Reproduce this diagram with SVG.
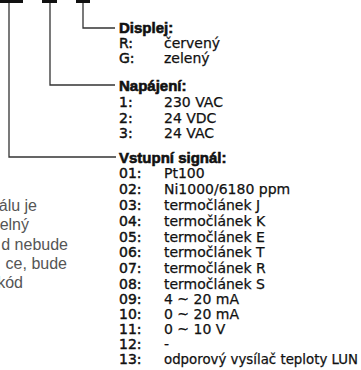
<svg xmlns="http://www.w3.org/2000/svg" width="361" height="370" viewBox="0 0 361 370">
<style>
.bar{fill:#111}
.ln{fill:none;stroke:#333;stroke-width:1.3}
.h{font-family:"Liberation Sans",Arial,sans-serif;font-weight:bold;font-size:15px;fill:#111;stroke:#111;stroke-width:0.6}
.k{font-family:"DejaVu Sans",sans-serif;font-size:14px;fill:#111;stroke:#111;stroke-width:0.45}
.v{font-family:"DejaVu Sans",sans-serif;font-size:14px;fill:#111;stroke:#111;stroke-width:0.25}
.n{font-family:"Liberation Sans",Arial,sans-serif;font-size:16px;fill:#555;text-anchor:end}
</style>
<rect width="361" height="370" fill="#fff"/>
<g id="connectors">
<rect class="bar" x="0" y="0" width="23" height="3"/>
<rect class="bar" x="42" y="0" width="15" height="3"/>
<rect class="bar" x="76" y="0" width="14" height="3"/>
<path class="ln" d="M83,3 V28 H115"/>
<path class="ln" d="M50,3 V85 H115"/>
<path class="ln" d="M9,3 V157 H116"/>
</g>
<g id="displej">
<text class="h" x="119" y="33">Displej:</text>
<text class="k" x="119" y="48">R:</text><text class="v" x="164" y="48">červený</text>
<text class="k" x="119" y="63">G:</text><text class="v" x="164" y="63">zelený</text>
</g>
<g id="napajeni">
<text class="h" x="119" y="91">Napájení:</text>
<text class="k" x="119" y="107">1:</text><text class="v" x="164" y="107">230 VAC</text>
<text class="k" x="119" y="123">2:</text><text class="v" x="164" y="123">24 VDC</text>
<text class="k" x="119" y="138">3:</text><text class="v" x="164" y="138">24 VAC</text>
</g>
<g id="vstupni">
<text class="h" x="119" y="163">Vstupní signál:</text>
<text class="k" x="119" y="178">01:</text><text class="v" x="164" y="178">Pt100</text>
<text class="k" x="119" y="194">02:</text><text class="v" x="164" y="194">Ni1000/6180 ppm</text>
<text class="k" x="119" y="210">03:</text><text class="v" x="164" y="210">termočlánek J</text>
<text class="k" x="119" y="226">04:</text><text class="v" x="164" y="226">termočlánek K</text>
<text class="k" x="119" y="242">05:</text><text class="v" x="164" y="242">termočlánek E</text>
<text class="k" x="119" y="257">06:</text><text class="v" x="164" y="257">termočlánek T</text>
<text class="k" x="119" y="273">07:</text><text class="v" x="164" y="273">termočlánek R</text>
<text class="k" x="119" y="289">08:</text><text class="v" x="164" y="289">termočlánek S</text>
<text class="k" x="119" y="304">09:</text><text class="v" x="164" y="304">4 ~ 20 mA</text>
<text class="k" x="119" y="319">10:</text><text class="v" x="164" y="319">0 ~ 20 mA</text>
<text class="k" x="119" y="334">11:</text><text class="v" x="164" y="334">0 ~ 10 V</text>
<text class="k" x="119" y="349">12:</text><text class="v" x="164" y="349">-</text>
<text class="k" x="119" y="364">13:</text><text class="v" x="164" y="364" textLength="194" lengthAdjust="spacingAndGlyphs">odporový vysílač teploty LUN</text>
</g>
<g id="note">
<text class="n" x="37" y="211">álu je</text>
<text class="n" x="29" y="230">elný</text>
<text class="n" x="68" y="250">d nebude</text>
<text class="n" x="67" y="269">ce, bude</text>
<text class="n" x="23" y="288">kód</text>
</g>
</svg>
